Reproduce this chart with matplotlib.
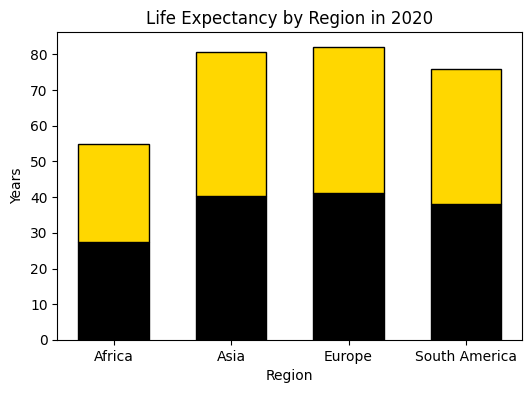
import numpy as np
import matplotlib
matplotlib.use("Agg")
import matplotlib.pyplot as plt

regions = ["Africa", "Asia", "Europe", "South America"]
lower = [27.4, 40.4, 41.05, 38.0]
upper = [27.4, 40.4, 41.05, 38.0]

fig, ax = plt.subplots(figsize=(5.31, 3.93), dpi=100)
fig.subplots_adjust(left=0.108, right=0.9836, top=0.918, bottom=0.135)

x = np.arange(len(regions))
ax.bar(x, lower, width=0.6, color="black", edgecolor="black")
ax.bar(x, upper, width=0.6, bottom=lower, color="gold", edgecolor="black")

ax.set_xticks(x)
ax.set_xticklabels(regions)
ax.set_xlabel("Region")
ax.set_ylabel("Years")
ax.set_title("Life Expectancy by Region in 2020")

fig.savefig("out.png", dpi=100)
